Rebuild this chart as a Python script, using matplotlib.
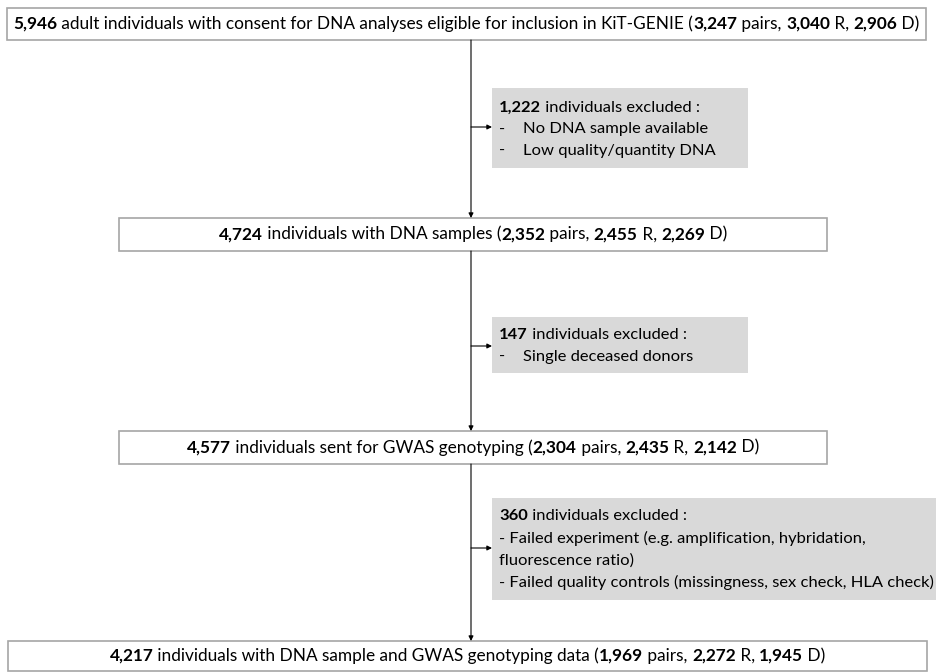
import matplotlib.pyplot as plt
from matplotlib.patches import Rectangle

# counts for each stage of the flow
totals = [5946, 4724, 4577, 4217]
pairs = [3247, 2352, 2304, 1969]
recipients = [3040, 2455, 2435, 2272]
donors = [2906, 2269, 2142, 1945]
stage_text = [
    'adult individuals with consent for DNA analyses eligible for inclusion in KiT-GENIE',
    'individuals with DNA samples',
    'individuals sent for GWAS genotyping',
    'individuals with DNA sample and GWAS genotyping data',
]
excluded = [1222, 147, 360]
reasons = [
    [('-', 'No DNA sample available'), ('-', 'Low quality/quantity DNA')],
    [('-', 'Single deceased donors')],
    [('', '- Failed experiment (e.g. amplification, hybridation,'),
     ('', 'fluorescence ratio)'),
     ('', '- Failed quality controls (missingness, sex check, HLA check)')],
]

FONT = ['Lato', 'DejaVu Sans']
W, H = 941, 672
fig = plt.figure(figsize=(W / 100, H / 100), dpi=100)
ax = fig.add_axes([0, 0, 1, 1])
ax.set_xlim(0, W)
ax.set_ylim(H, 0)
ax.axis('off')
renderer = fig.canvas.get_renderer()


def fmt(n):
    return f'{n:,}'


def _w(s, size, bold):
    t = ax.text(0, 0, s, fontsize=size, family=FONT,
                fontweight='bold' if bold else 'normal')
    w = t.get_window_extent(renderer).width
    t.remove()
    return w


def adv(s, size, bold):
    # advance width, spaces included; bars on both sides hide side bearings
    return _w('|' + s + '|', size, bold) - _w('||', size, bold)


def width_of(parts, size):
    return sum(adv(s, size, b) for s, b in parts)


def rich(x, y, parts, size, ha='left'):
    if ha == 'center':
        x = x - width_of(parts, size) / 2
    for s, b in parts:
        ax.text(x, y, s, fontsize=size, family=FONT, va='baseline',
                fontweight='bold' if b else 'normal', color='black')
        x += adv(s, size, b)


# layout (pixels)
boxes = [(7, 8, 926, 40), (119, 218, 827, 251), (119, 431, 827, 464), (8, 641, 927, 671)]
grey = [(492, 88, 748, 168), (492, 317, 748, 373), (492, 498, 936, 600)]
grey_base = [[112, 133.5, 155], [339, 361], [520, 542.5, 565, 587.5]]
side_y = [127, 346, 548]
xline = 471

size = None
for i, (x0, y0, x1, y1) in enumerate(boxes):
    ax.add_patch(Rectangle((x0, y0), x1 - x0, y1 - y0, facecolor='white',
                           edgecolor='#a6a6a6', linewidth=1.2))
    parts = [(fmt(totals[i]), True), (' ' + stage_text[i] + ' (', False),
             (fmt(pairs[i]), True), (' pairs, ', False),
             (fmt(recipients[i]), True), (' R, ', False),
             (fmt(donors[i]), True), (' D)', False)]
    if size is None:
        # first (longest) line fills its box; others share that size
        size = 10 * 910 / width_of(parts, 10)
    rich((x0 + x1) / 2, (y0 + y1) / 2 + 5, parts, size, ha='center')

# grey text size: widest line fills the last grey box
gsize = 10 * 432 / adv(reasons[2][2][1], 10, False)
for i, (x0, y0, x1, y1) in enumerate(grey):
    ax.add_patch(Rectangle((x0, y0), x1 - x0, y1 - y0, facecolor='#d9d9d9',
                           edgecolor='none'))
    rich(499, grey_base[i][0], [(fmt(excluded[i]), True),
                                (' individuals excluded :', False)], gsize)
    for (dash, line), yb in zip(reasons[i], grey_base[i][1:]):
        if dash:
            ax.text(499, yb, dash, fontsize=gsize, family=FONT, va='baseline')
            ax.text(523, yb, line, fontsize=gsize, family=FONT, va='baseline')
        else:
            ax.text(499, yb, line, fontsize=gsize, family=FONT, va='baseline')

arrow = dict(arrowstyle='-|>', color='black', lw=0.8, mutation_scale=7,
             shrinkA=0, shrinkB=0)
for i in range(3):
    ax.annotate('', xy=(xline, boxes[i + 1][1]), xytext=(xline, boxes[i][3]),
                arrowprops=arrow)
    ax.annotate('', xy=(grey[i][0], side_y[i]), xytext=(xline, side_y[i]),
                arrowprops=arrow)

fig.savefig('out.png', dpi=100)
